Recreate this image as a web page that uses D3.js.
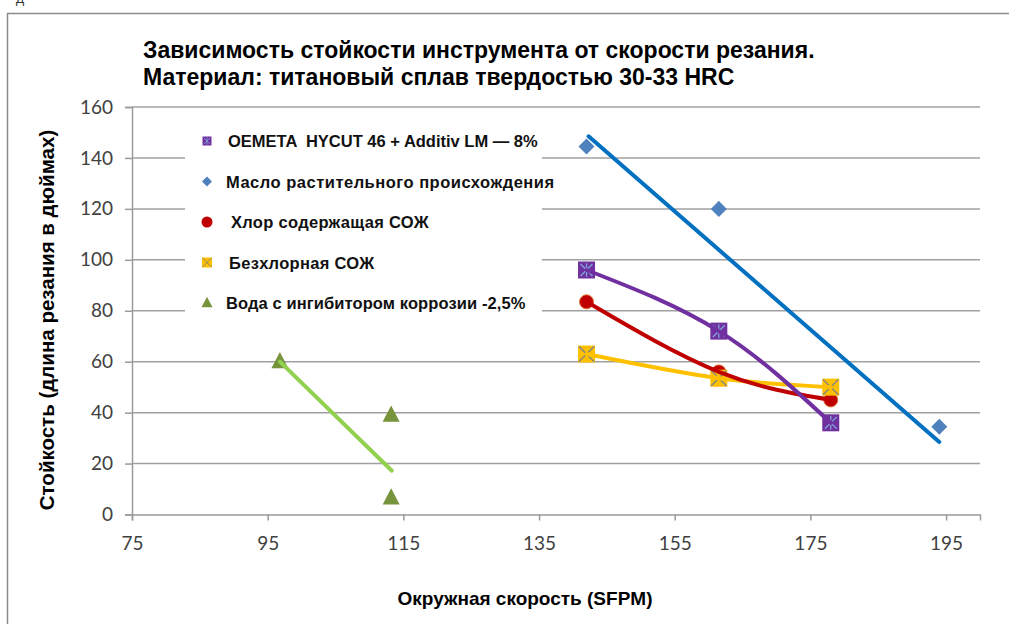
<!DOCTYPE html>
<html>
<head>
<meta charset="utf-8">
<script src="https://cdn.jsdelivr.net/npm/d3@7"></script>
<style>
  body { margin: 0; background: #fff; }
  svg { display: block; }
</style>
</head>
<body>
<div id="chart"></div>
<script>

// series names (legend order)
var seriesNames = ["OEMETA  HYCUT 46 + Additiv LM — 8%", "Масло растительного происхождения",
                   "Хлор содержащая СОЖ", "Безхлорная СОЖ", "Вода с ингибитором коррозии -2,5%"];

// measured points
var oemetaX = [142, 161.5, 178];
var oemetaY = [96, 72, 36];
var oilX = [142, 161.5, 194];
var oilY = [144.5, 120, 34.5];
var chlorX = [142, 161.5, 178];
var chlorY = [83.5, 56, 45];
var noChlorX = [142, 161.5, 178];
var noChlorY = [63, 53.5, 50];
var waterX = [96.8, 113.2, 113.2];
var waterY = [60, 39, 6.5];

// straight trend lines (ends)
var oilTrendX = [142.3, 194];
var oilTrendY = [148.5, 28.5];
var waterTrendX = [96.8, 113.3];
var waterTrendY = [60, 17.2];

var xTicks = [75, 95, 115, 135, 155, 175, 195];
var yTicks = [0, 20, 40, 60, 80, 100, 120, 140, 160];

var titleLines = ["Зависимость стойкости инструмента от скорости резания.",
                  "Материал: титановый сплав твердостью 30-33 HRC"];
var xTitle = "Окружная скорость (SFPM)";
var yTitle = "Стойкость (длина резания в дюймах)";


ToolLifeVis = function (_parent) {
  this.parent = _parent;
  this.width = 1009;
  this.height = 624;
  this.plot = { left: 132, right: 980, top: 107, bottom: 514.5 };
  this.initVis();
}

ToolLifeVis.prototype.initVis = function () {
  var that = this;

  this.svg = this.parent.append("svg")
      .attr("width", this.width)
      .attr("height", this.height);

  // stray glyph cut off at the top edge (as in the source image)
  this.svg.append("text")
      .attr("x", 16).attr("y", 3)
      .style("font-family", "Liberation Sans, Arial, sans-serif")
      .style("font-size", "12px")
      .attr("fill", "#333")
      .text("Д");

  // chart frame (cut at right/bottom)
  this.svg.append("rect")
      .attr("x", 7.5).attr("y", 13.5)
      .attr("width", 1100).attr("height", 700)
      .attr("fill", "none")
      .attr("stroke", "#8c8c8c")
      .attr("stroke-width", 1.5);

  this.x = d3.scaleLinear().domain([75, 200]).range([this.plot.left, this.plot.right]);
  this.y = d3.scaleLinear().domain([0, 160]).range([this.plot.bottom, this.plot.top]);

  // grid
  this.svg.append("g").selectAll("line.grid")
      .data(yTicks.filter(function (d) { return d > 0; }))
      .enter().append("line")
      .attr("class", "grid")
      .attr("x1", this.plot.left).attr("x2", this.plot.right)
      .attr("y1", function (d) { return that.y(d); })
      .attr("y2", function (d) { return that.y(d); })
      .attr("stroke", "#a0a0a0")
      .attr("stroke-width", 1.5);

  var yAxis = d3.axisLeft(this.y).tickValues(yTicks).tickSize(7).tickPadding(12);
  var xAxis = d3.axisBottom(this.x).tickValues(xTicks).tickSize(6).tickPadding(16);

  this.svg.append("g")
      .attr("class", "axis")
      .attr("transform", "translate(" + this.plot.left + ",0)")
      .call(yAxis);

  this.svg.append("g")
      .attr("class", "axis")
      .attr("transform", "translate(0," + this.plot.bottom + ")")
      .call(xAxis);

  this.svg.selectAll(".axis path").attr("stroke", "#9a9a9a").attr("stroke-width", 1.5);
  this.svg.selectAll(".axis line").attr("stroke", "#9a9a9a").attr("stroke-width", 1.5);
  this.svg.selectAll(".axis text")
      .style("font-family", "Lato, Calibri, sans-serif")
      .style("font-size", "19px")
      .attr("fill", "#404040");

  // titles
  this.svg.append("g").selectAll("text")
      .data(titleLines)
      .enter().append("text")
      .attr("x", 143)
      .attr("y", function (d, i) { return 58 + i * 27; })
      .style("font-family", "Liberation Sans, Arial, sans-serif")
      .style("font-size", "23px")
      .style("font-weight", "bold")
      .attr("fill", "#000")
      .text(function (d) { return d; });

  this.svg.append("text")
      .attr("x", 525).attr("y", 605)
      .attr("text-anchor", "middle")
      .style("font-family", "Liberation Sans, Arial, sans-serif")
      .style("font-size", "19px")
      .style("font-weight", "bold")
      .text(xTitle);

  this.svg.append("text")
      .attr("transform", "translate(54,320) rotate(-90)")
      .attr("text-anchor", "middle")
      .style("font-family", "Liberation Sans, Arial, sans-serif")
      .style("font-size", "20.5px")
      .style("font-weight", "bold")
      .text(yTitle);

  this.wrangleData();
  this.updateVis();
}

ToolLifeVis.prototype.wrangleData = function () {
  function zip(xs, ys) {
    return xs.map(function (x, i) { return { x: x, y: ys[i] }; });
  }
  this.series = [
    { name: seriesNames[0], pts: zip(oemetaX, oemetaY), color: "#7030a0", shape: "square" },
    { name: seriesNames[1], pts: zip(oilX, oilY), color: "#4f81bd", shape: "diamond" },
    { name: seriesNames[2], pts: zip(chlorX, chlorY), color: "#c00000", shape: "circle" },
    { name: seriesNames[3], pts: zip(noChlorX, noChlorY), color: "#ffc000", shape: "xsquare" },
    { name: seriesNames[4], pts: zip(waterX, waterY), color: "#77933c", shape: "triangle" }
  ];
  this.curves = [
    { pts: zip(noChlorX, noChlorY), color: "#ffc000", curve: d3.curveNatural },
    { pts: zip(chlorX, chlorY), color: "#c00000", curve: d3.curveNatural },
    { pts: zip(oemetaX, oemetaY), color: "#7030a0", curve: d3.curveNatural },
    { pts: zip(oilTrendX, oilTrendY), color: "#0070c0", curve: d3.curveLinear },
    { pts: zip(waterTrendX, waterTrendY), color: "#92d050", curve: d3.curveLinear }
  ];
}

ToolLifeVis.prototype.drawMarker = function (g, shape, color, s) {
  if (shape === "square") {
    g.append("rect").attr("x", -s / 2).attr("y", -s / 2).attr("width", s).attr("height", s)
        .attr("fill", color);
    g.append("path")
        .attr("d", "M" + (-s * 0.35) + "," + (-s * 0.35) + "L" + (s * 0.35) + "," + (s * 0.35) +
                   "M" + (-s * 0.35) + "," + (s * 0.35) + "L" + (s * 0.35) + "," + (-s * 0.35) +
                   "M0," + (-s * 0.4) + "L0," + (s * 0.4))
        .attr("stroke", "#7fa6d8").attr("stroke-width", s > 12 ? 1.3 : 0.8).attr("fill", "none");
  } else if (shape === "diamond") {
    g.append("path").attr("d", d3.symbol().type(d3.symbolSquare).size(s * s / 2)())
        .attr("transform", "rotate(45)")
        .attr("fill", color);
  } else if (shape === "circle") {
    g.append("circle").attr("r", s / 2).attr("fill", color)
        .attr("stroke", "#e07030").attr("stroke-width", s > 12 ? 1 : 0);
  } else if (shape === "xsquare") {
    g.append("rect").attr("x", -s / 2).attr("y", -s / 2).attr("width", s).attr("height", s)
        .attr("fill", color);
    g.append("path")
        .attr("d", "M" + (-s * 0.45) + "," + (-s * 0.45) + "L" + (s * 0.45) + "," + (s * 0.45) +
                   "M" + (-s * 0.45) + "," + (s * 0.45) + "L" + (s * 0.45) + "," + (-s * 0.45))
        .attr("stroke", "#8a8a7a").attr("stroke-width", s > 12 ? 1.5 : 1).attr("fill", "none");
  } else if (shape === "triangle") {
    var h = s * 0.95;
    g.append("path")
        .attr("d", "M0," + (-h * 0.6) + "L" + (s / 2) + "," + (h * 0.4) + "L" + (-s / 2) + "," + (h * 0.4) + "Z")
        .attr("fill", color);
  }
}

ToolLifeVis.prototype.updateVis = function () {
  var that = this;

  // markers
  var markerSize = { square: 17, diamond: 16, circle: 14, xsquare: 17, triangle: 17 };
  var order = [1, 4, 2, 3, 0];
  order.forEach(function (k) {
    var s = that.series[k];
    s.pts.forEach(function (p) {
      var g = that.svg.append("g")
          .attr("transform", "translate(" + that.x(p.x) + "," + that.y(p.y) + ")");
      that.drawMarker(g, s.shape, s.color, markerSize[s.shape]);
    });
  });

  // trend lines
  var line = d3.line()
      .x(function (d) { return that.x(d.x); })
      .y(function (d) { return that.y(d.y); });

  this.svg.append("g").selectAll("path.trend")
      .data(this.curves)
      .enter().append("path")
      .attr("class", "trend")
      .attr("d", function (d) { return line.curve(d.curve)(d.pts); })
      .attr("fill", "none")
      .attr("stroke", function (d) { return d.color; })
      .attr("stroke-width", 4)
      .attr("stroke-linecap", "round");

  // legend box
  var legend = this.svg.append("g");
  legend.append("rect")
      .attr("x", 185).attr("y", 124)
      .attr("width", 357).attr("height", 196)
      .attr("fill", "#fff");

  var legendSize = { square: 9, diamond: 10, circle: 11, xsquare: 10, triangle: 11 };
  var rows = legend.selectAll("g.row")
      .data(this.series)
      .enter().append("g")
      .attr("class", "row")
      .attr("transform", function (d, i) { return "translate(207," + (141 + i * 40.5) + ")"; });

  rows.each(function (d) {
    that.drawMarker(d3.select(this), d.shape, d.color, legendSize[d.shape]);
  });

  var textX = [21, 19, 24, 22, 19];
  var spacing = [0, 0.5, 0.3, 0.3, 0.1];
  rows.append("text")
      .attr("x", function (d, i) { return textX[i]; })
      .attr("y", 6)
      .style("white-space", "pre")
      .style("font-family", "Liberation Sans, Arial, sans-serif")
      .style("font-size", "16.5px")
      .style("font-weight", "bold")
      .style("letter-spacing", function (d, i) { return spacing[i] + "px"; })
      .attr("fill", "#111")
      .text(function (d) { return d.name; });
}

var vis = new ToolLifeVis(d3.select("#chart"));
</script>
</body>
</html>
